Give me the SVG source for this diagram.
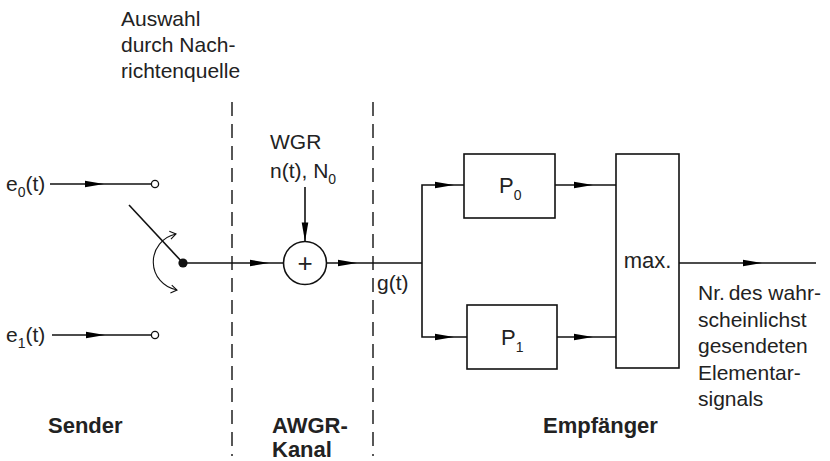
<svg xmlns="http://www.w3.org/2000/svg" xmlns:xlink="http://www.w3.org/1999/xlink" width="830" height="461" viewBox="0 0 830 461">
<style>
text{font-family:"Liberation Sans",Arial,Helvetica,sans-serif;font-size:21px;fill:#222}
.b{font-weight:bold;font-size:22px}
.sub{font-size:14px}
.big{font-size:22px}
.ln{stroke:#111;stroke-width:1.6;fill:none}
.box{stroke:#111;stroke-width:1.6;fill:#fff}
.dash{stroke:#111;stroke-width:1.4;stroke-dasharray:14 8;fill:none}
</style>
<defs>
<polygon id="ah" points="0,0 -19,-3.3 -19,3.3"/>
<marker id="oa" viewBox="-8 -6 10 12" markerWidth="10" markerHeight="12" refX="0" refY="0" orient="auto-start-reverse" markerUnits="userSpaceOnUse">
<polyline points="-6,-4 0,0 -6,4" fill="none" stroke="#111" stroke-width="1.1"/>
</marker>
</defs>
<g id="labels">
<text x="121" y="26">Auswahl</text>
<text x="121" y="52">durch Nach-</text>
<text x="121" y="78">richtenquelle</text>
<text class="b" x="48" y="433">Sender</text>
<text class="b" x="272" y="433">AWGR-</text>
<text class="b" x="272" y="457">Kanal</text>
<text class="b" x="543" y="433">Empfänger</text>
<text x="377" y="290">g(t)</text>
<text x="698" y="300">Nr.<tspan dx="-2"> des wahr-</tspan></text>
<text x="698" y="326.5">scheinlichst</text>
<text x="698" y="353">gesendeten</text>
<text x="698" y="379.5">Elementar-</text>
<text x="698" y="406">signals</text>
</g>
<g id="dividers">
<line class="dash" x1="232" y1="102" x2="232" y2="456"/>
<line class="dash" x1="373" y1="102" x2="373" y2="456"/>
</g>
<g id="e0">
<text x="6" y="191">e<tspan class="sub" dy="6">0</tspan><tspan dy="-6">(t)</tspan></text>
</g>
<g id="e1">
<text x="6" y="342">e<tspan class="sub" dy="6">1</tspan><tspan dy="-6">(t)</tspan></text>
</g>
<g id="switch">
<circle cx="155" cy="184" r="3.6" fill="#fff" stroke="#111" stroke-width="1.3"/>
<circle cx="155" cy="335" r="3.6" fill="#fff" stroke="#111" stroke-width="1.3"/>
<line class="ln" x1="129" y1="205" x2="183" y2="263"/>
<circle cx="183" cy="263" r="4.6" fill="#111"/>
<path d="M176,234 A28.5,28.5 0 0 0 177,290" fill="none" stroke="#111" stroke-width="1.1" marker-start="url(#oa)" marker-end="url(#oa)"/>
</g>
<g id="noise">
<text x="270" y="149">WGR</text>
<text x="270" y="178">n(t), N<tspan class="sub" dy="6">0</tspan></text>
</g>
<g id="adder">
<circle class="box" cx="305" cy="263" r="21.5"/>
<text x="305" y="272" text-anchor="middle" style="font-size:26px">+</text>
</g>
<g id="P0">
<rect class="box" x="464" y="154" width="91" height="64"/>
<text class="big" x="499" y="193">P<tspan class="sub" dy="7">0</tspan></text>
</g>
<g id="P1">
<rect class="box" x="467" y="305" width="90" height="64"/>
<text class="big" x="501" y="345">P<tspan class="sub" dy="7">1</tspan></text>
</g>
<g id="max">
<rect class="box" x="616" y="154" width="63" height="214"/>
<text class="big" x="647.5" y="268" text-anchor="middle">max.</text>
</g>
<g id="connectors">
<line class="ln" x1="50" y1="184" x2="151.4" y2="184"/>
<line class="ln" x1="52" y1="335" x2="151.4" y2="335"/>
<line class="ln" x1="183" y1="263" x2="283.5" y2="263"/>
<line class="ln" x1="305" y1="187" x2="305" y2="241.5"/>
<polyline class="ln" points="326.5,263 422,263"/>
<polyline class="ln" points="464,185 422,185 422,337 467,337"/>
<line class="ln" x1="555" y1="185" x2="616" y2="185"/>
<line class="ln" x1="557" y1="337" x2="616" y2="337"/>
<line class="ln" x1="679" y1="263" x2="816" y2="263"/>
<use xlink:href="#ah" href="#ah" transform="translate(104,184)"/>
<use xlink:href="#ah" href="#ah" transform="translate(105,335)"/>
<use xlink:href="#ah" href="#ah" transform="translate(269,263)"/>
<use xlink:href="#ah" href="#ah" transform="translate(305,241.5) rotate(90)"/>
<use xlink:href="#ah" href="#ah" transform="translate(357,263)"/>
<use xlink:href="#ah" href="#ah" transform="translate(454,185)"/>
<use xlink:href="#ah" href="#ah" transform="translate(454,337)"/>
<use xlink:href="#ah" href="#ah" transform="translate(593,185)"/>
<use xlink:href="#ah" href="#ah" transform="translate(593,337)"/>
<use xlink:href="#ah" href="#ah" transform="translate(762,263)"/>
</g>
</svg>
